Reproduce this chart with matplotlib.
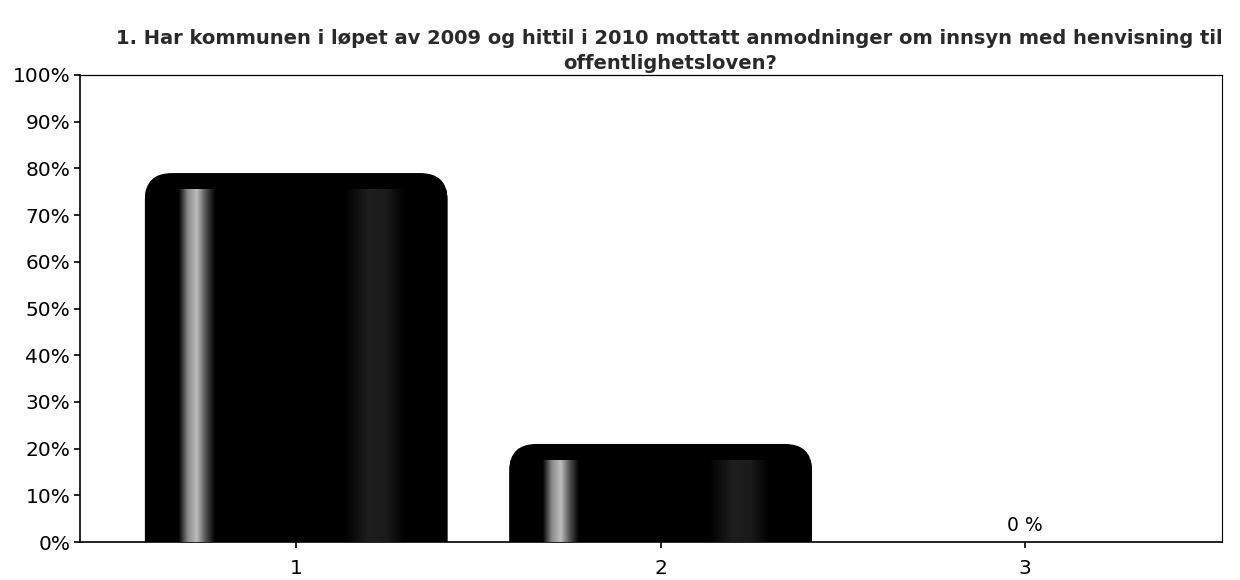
import numpy as np
import matplotlib
matplotlib.use('Agg')
import matplotlib.pyplot as plt
from matplotlib.patches import FancyBboxPatch
from matplotlib.colors import LinearSegmentedColormap

categories = ['1', '2', '3']
values = [79, 21, 0]
title = ('1. Har kommunen i løpet av 2009 og hittil i 2010 mottatt anmodninger om innsyn med henvisning til\n'
         'offentlighetsloven?')

plt.rcParams['font.family'] = ['DejaVu Sans']

fig = plt.figure(figsize=(12.4, 5.8), dpi=100)
ax = fig.add_axes([80 / 1240, 38 / 580, 1142 / 1240, 467 / 580])

x = np.arange(1, len(categories) + 1)
bw = 0.83
bars = ax.bar(x, values, width=bw, color='none', edgecolor='none')

# dark bar with a light stripe near the left side
cmap = LinearSegmentedColormap.from_list('bar', [
    (0.0, '#000000'), (0.11, '#000000'), (0.14, '#8a8a8a'), (0.17, '#bdbdbd'),
    (0.20, '#505050'), (0.23, '#000000'), (0.66, '#000000'), (0.74, '#1e1e1e'),
    (0.80, '#1a1a1a'), (0.86, '#000000'), (1.0, '#000000')])
grad = np.linspace(0, 1, 256).reshape(1, -1)

for b, v in zip(bars, values):
    if v <= 0:
        continue
    x0 = b.get_x()
    w = b.get_width()
    patch = FancyBboxPatch((x0, -20), w, v + 20,
                           boxstyle='round,pad=0,rounding_size=0.075',
                           mutation_aspect=75, facecolor='black',
                           edgecolor='none', zorder=2)
    ax.add_patch(patch)
    im = ax.imshow(grad, cmap=cmap, aspect='auto', extent=(x0, x0 + w, 0, v - 3.5),
                   zorder=3, interpolation='bilinear')
    im.set_clip_path(patch)

ax.text(3, 1.5, '0 %', ha='center', va='bottom', fontsize=13.5)

ax.set_xlim(0.407, 3.54)
ax.set_ylim(0, 100)
ax.set_yticks(np.arange(0, 101, 10))
ax.set_yticklabels([f'{t}%' for t in range(0, 101, 10)])
ax.set_xticks(x)
ax.set_xticklabels(categories)
ax.tick_params(axis='both', labelsize=14.5, length=4, width=1.2, direction='out')
ax.tick_params(axis='y', pad=3)
ax.tick_params(axis='x', pad=8)
for s in ax.spines.values():
    s.set_linewidth(1.2)
ax.spines['top'].set_linestyle((0, (6, 1)))
ax.spines['top'].set_linewidth(0.9)
ax.spines['right'].set_linewidth(0.8)

fig.text(0.540, 0.950, title, ha='center', va='top', fontsize=14,
         fontweight='bold', color='#2a2a2a', linespacing=1.38)

fig.savefig('out.png', dpi=100)
